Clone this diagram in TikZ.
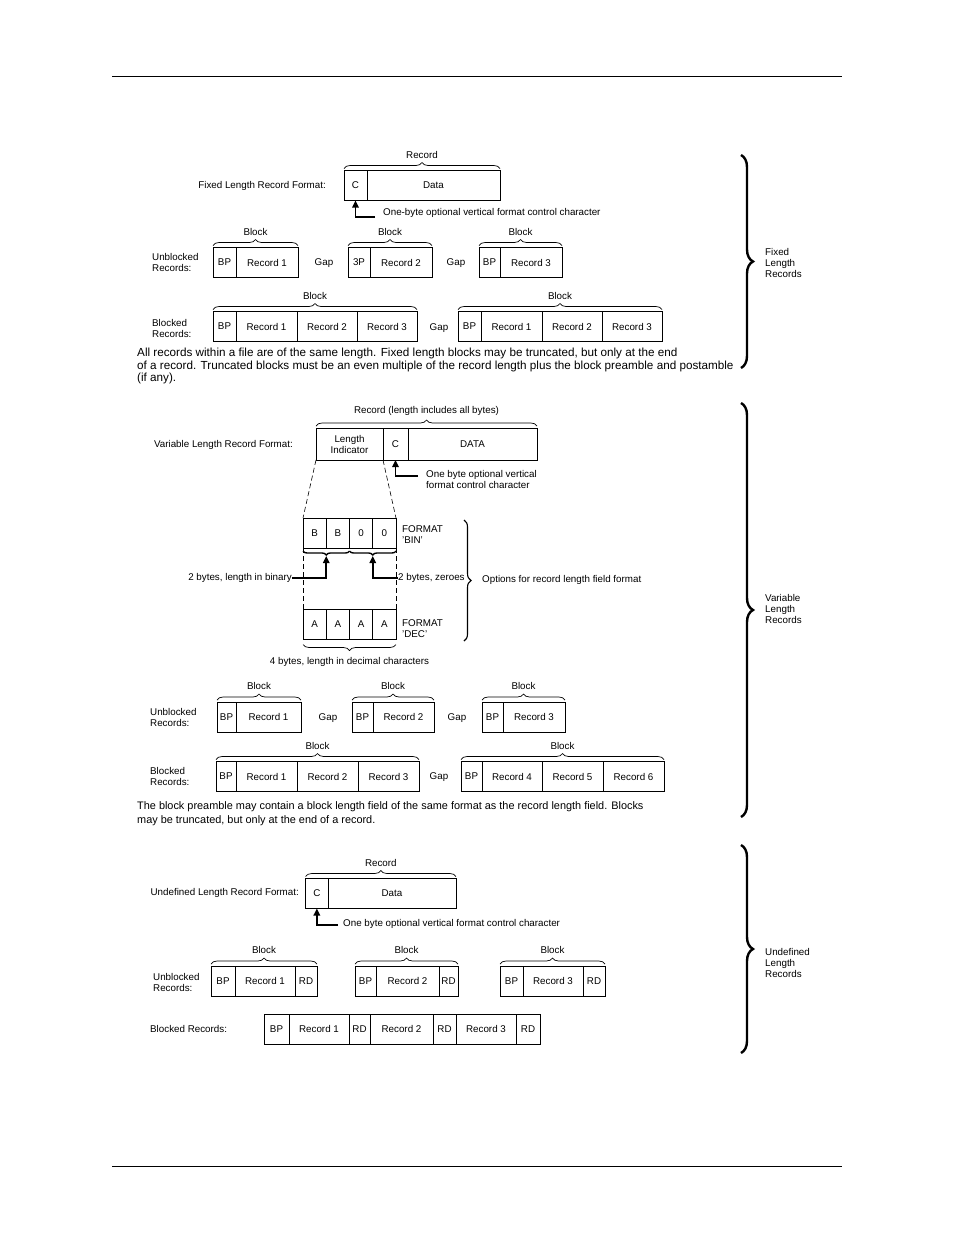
\documentclass[tikz,border=0pt]{standalone}
\usepackage{fontspec}
\setmainfont{Liberation Sans}
\usetikzlibrary{positioning,calc,arrows.meta,decorations.pathreplacing}
\tikzset{
lbl/.style={inner sep=0pt, font=\fontsize{9.8}{11}\selectfont},
cell/.style={draw, line width=0.7pt, minimum width=#1, minimum height=30pt,
  inner sep=0pt, outer sep=0pt, anchor=west, align=center, font=\fontsize{9.8}{11}\selectfont},
over/.style={decorate, decoration={brace, amplitude=6pt}, line width=0.7pt},
under/.style={decorate, decoration={brace, amplitude=4pt}, line width=1.4pt},
optbrace/.style={decorate, decoration={brace, amplitude=7pt}, line width=1.1pt},
side/.style={decorate, decoration={brace, amplitude=12pt}, line width=2.4pt},
pointer/.style={line width=1.6pt, -{Triangle[width=6.5pt,length=7pt]}},
guide/.style={line width=0.6pt, dash pattern=on 5pt off 3pt},
rule/.style={line width=1pt},
}
\begin{document}
\begin{tikzpicture}[x=1pt,y=-1pt]
\useasboundingbox (0,0) rectangle (954,1235);
\draw[rule] (112,76) -- (842,76);
\draw[rule] (112,1166) -- (842,1166);

% fixed length records
\node[lbl, anchor=east] (flbl) at (326,186) {Fixed Length Record Format:};
\node[cell=23] (fc) at (344,185.5) {C};
\node[cell=133, right=0pt of fc] (fdata) {Data};
\draw[over] ([yshift=2pt]fc.north west) -- ([yshift=2pt]fdata.north east)
  node[lbl, midway, above=10pt] {Record};
\node[lbl, anchor=west] (ftx) at (383,213) {One-byte optional vertical format control character};
\coordinate (ftail) at (375,217);
\draw[pointer] (ftail) -| (fc.south);

\node[lbl, anchor=west, align=left] (fub) at (152,262.5) {Unblocked\\Records:};
\node[cell=23] (fu1a) at (213,262.5) {BP};
\node[cell=62, right=0pt of fu1a] (fu1b) {Record 1};
\node[lbl] (fgap1) at (324,263) {Gap};
\node[cell=22] (fu2a) at (348,262.5) {3P};
\node[cell=62, right=0pt of fu2a] (fu2b) {Record 2};
\node[lbl] (fgap2) at (456,263) {Gap};
\node[cell=21] (fu3a) at (479,262.5) {BP};
\node[cell=62, right=0pt of fu3a] (fu3b) {Record 3};
\draw[over] ([yshift=2pt]fu1a.north west) -- ([yshift=2pt]fu1b.north east)
  node[lbl, midway, above=10pt] {Block};
\draw[over] ([yshift=2pt]fu2a.north west) -- ([yshift=2pt]fu2b.north east)
  node[lbl, midway, above=10pt] {Block};
\draw[over] ([yshift=2pt]fu3a.north west) -- ([yshift=2pt]fu3b.north east)
  node[lbl, midway, above=10pt] {Block};

\node[lbl, anchor=west, align=left] (fbl) at (152,328) {Blocked\\Records:};
\node[cell=23] (fb1a) at (213,326.5) {BP};
\node[cell=61, right=0pt of fb1a] (fb1b) {Record 1};
\node[cell=60, right=0pt of fb1b] (fb1c) {Record 2};
\node[cell=60, right=0pt of fb1c] (fb1d) {Record 3};
\node[lbl] (fgap3) at (439,328) {Gap};
\node[cell=23] (fb2a) at (458,326.5) {BP};
\node[cell=61, right=0pt of fb2a] (fb2b) {Record 1};
\node[cell=60, right=0pt of fb2b] (fb2c) {Record 2};
\node[cell=60, right=0pt of fb2c] (fb2d) {Record 3};
\draw[over] ([yshift=2pt]fb1a.north west) -- ([yshift=2pt]fb1d.north east)
  node[lbl, midway, above=10pt] {Block};
\draw[over] ([yshift=2pt]fb2a.north west) -- ([yshift=2pt]fb2d.north east)
  node[lbl, midway, above=10pt] {Block};

\node[anchor=north west, inner sep=0pt, align=left, font=\fontsize{11.7}{12.6}\selectfont] (fnote) at (137,348)
  {All records within a file are of the same length. Fixed length blocks may be truncated, but only at the end\\
   of a record. Truncated blocks must be an even multiple of the record length plus the block preamble and postamble\\
   (if any).};
\draw[side] (741,155) -- (741,368);
\node[lbl, anchor=west, align=left] (fside) at (765,263) {Fixed\\Length\\Records};

% variable length records
\node[lbl, anchor=east] (vlbl) at (293,445) {Variable Length Record Format:};
\node[cell=67, minimum height=32pt] (vli) at (316,444) {Length\\Indicator};
\node[cell=25, minimum height=32pt, right=0pt of vli] (vc) {C};
\node[cell=129, minimum height=32pt, right=0pt of vc] (vdata) {DATA};
\draw[over] ([yshift=2pt]vli.north west) -- ([yshift=2pt]vdata.north east)
  node[lbl, midway, above=10pt] {Record (length includes all bytes)};
\node[lbl, anchor=north west, align=left] (vtx) at (426,470) {One byte optional vertical\\format control character};
\coordinate (vtail) at (418,476);
\draw[pointer] (vtail) -| (vc.south);

\foreach \t [count=\i] in {B,B,0,0}
  \node[cell=23.25] (bin\i) at ({303+23.25*(\i-1)},533) {\t};
\foreach \t [count=\i] in {A,A,A,A}
  \node[cell=23.25] (dec\i) at ({303+23.25*(\i-1)},624.5) {\t};
\node[lbl, anchor=west, align=left] (bintag) at (402,535) {FORMAT\\'BIN'};
\node[lbl, anchor=west, align=left] (dectag) at (402,629) {FORMAT\\'DEC'};
\draw[guide] (vli.south west) -- (bin1.north west);
\draw[guide] (vli.south east) -- (bin4.north east);
\draw[guide] (bin1.south west) -- (dec1.north west);
\draw[guide] (bin4.south east) -- (dec4.north east);
\draw[under] ([yshift=-3pt]bin2.south east) -- ([yshift=-3pt]bin1.south west);
\draw[under] ([yshift=-3pt]bin4.south east) -- ([yshift=-3pt]bin3.south west);
\coordinate (lbtip) at ($(bin1.south west)!0.5!(bin2.south east)+(0,8)$);
\coordinate (rbtip) at ($(bin3.south west)!0.5!(bin4.south east)+(0,8)$);
\node[lbl, anchor=east] (bintx) at (292,578) {2 bytes, length in binary};
\node[lbl, anchor=west] (zertx) at (398,578) {2 bytes, zeroes};
\draw[pointer] (bintx.east) -| (lbtip);
\draw[pointer] (zertx.west) -| (rbtip);
\draw[over] ([yshift=-5pt]dec4.south east) -- ([yshift=-5pt]dec1.south west)
  node[lbl, midway, below=13pt] {4 bytes, length in decimal characters};
\draw[optbrace] (464,520) -- (464,641);
\node[lbl, anchor=west] (opttx) at (482,580) {Options for record length field format};

\node[lbl, anchor=west, align=left] (vub) at (150,717) {Unblocked\\Records:};
\node[cell=19] (vu1a) at (217,717) {BP};
\node[cell=65, right=0pt of vu1a] (vu1b) {Record 1};
\node[lbl] (vgap1) at (328,718) {Gap};
\node[cell=21] (vu2a) at (352,717) {BP};
\node[cell=61, right=0pt of vu2a] (vu2b) {Record 2};
\node[lbl] (vgap2) at (457,718) {Gap};
\node[cell=21] (vu3a) at (482,717) {BP};
\node[cell=62, right=0pt of vu3a] (vu3b) {Record 3};
\draw[over] ([yshift=2pt]vu1a.north west) -- ([yshift=2pt]vu1b.north east)
  node[lbl, midway, above=10pt] {Block};
\draw[over] ([yshift=2pt]vu2a.north west) -- ([yshift=2pt]vu2b.north east)
  node[lbl, midway, above=10pt] {Block};
\draw[over] ([yshift=2pt]vu3a.north west) -- ([yshift=2pt]vu3b.north east)
  node[lbl, midway, above=10pt] {Block};

\node[lbl, anchor=west, align=left] (vbl) at (150,776) {Blocked\\Records:};
\node[cell=20] (vb1a) at (216,776.5) {BP};
\node[cell=61, right=0pt of vb1a] (vb1b) {Record 1};
\node[cell=61, right=0pt of vb1b] (vb1c) {Record 2};
\node[cell=61, right=0pt of vb1c] (vb1d) {Record 3};
\node[lbl] (vgap3) at (439,777) {Gap};
\node[cell=21] (vb2a) at (461,776.5) {BP};
\node[cell=60, right=0pt of vb2a] (vb2b) {Record 4};
\node[cell=61, right=0pt of vb2b] (vb2c) {Record 5};
\node[cell=61, right=0pt of vb2c] (vb2d) {Record 6};
\draw[over] ([yshift=2pt]vb1a.north west) -- ([yshift=2pt]vb1d.north east)
  node[lbl, midway, above=10pt] {Block};
\draw[over] ([yshift=2pt]vb2a.north west) -- ([yshift=2pt]vb2d.north east)
  node[lbl, midway, above=10pt] {Block};

\node[anchor=north west, inner sep=0pt, align=left, font=\fontsize{10.9}{14}\selectfont] (vnote) at (137,801)
  {The block preamble may contain a block length field of the same format as the record length field. Blocks\\
   may be truncated, but only at the end of a record.};
\draw[side] (741,403) -- (741,817);
\node[lbl, anchor=west, align=left] (vside) at (765,609) {Variable\\Length\\Records};

% undefined length records
\node[lbl, anchor=east] (ulbl) at (299,893) {Undefined Length Record Format:};
\node[cell=22.3] (uc) at (305.7,893.5) {C};
\node[cell=128, right=0pt of uc] (udata) {Data};
\draw[over] ([yshift=2pt]uc.north west) -- ([yshift=2pt]udata.north east)
  node[lbl, midway, above=10pt] {Record};
\node[lbl, anchor=west] (utx) at (343,924) {One byte optional vertical format control character};
\coordinate (utail) at (338,925);
\draw[pointer] (utail) -| (uc.south);

\node[lbl, anchor=west, align=left] (uub) at (153,982.5) {Unblocked\\Records:};
\node[cell=24] (uu1a) at (211,981) {BP};
\node[cell=60, right=0pt of uu1a] (uu1b) {Record 1};
\node[cell=22, right=0pt of uu1b] (uu1c) {RD};
\node[cell=21] (uu2a) at (355,981) {BP};
\node[cell=63, right=0pt of uu2a] (uu2b) {Record 2};
\node[cell=19, right=0pt of uu2b] (uu2c) {RD};
\node[cell=23] (uu3a) at (500,981) {BP};
\node[cell=60, right=0pt of uu3a] (uu3b) {Record 3};
\node[cell=22, right=0pt of uu3b] (uu3c) {RD};
\draw[over] ([yshift=2pt]uu1a.north west) -- ([yshift=2pt]uu1c.north east)
  node[lbl, midway, above=10pt] {Block};
\draw[over] ([yshift=2pt]uu2a.north west) -- ([yshift=2pt]uu2c.north east)
  node[lbl, midway, above=10pt] {Block};
\draw[over] ([yshift=2pt]uu3a.north west) -- ([yshift=2pt]uu3c.north east)
  node[lbl, midway, above=10pt] {Block};

\node[lbl, anchor=west] (ubl) at (150,1029) {Blocked Records:};
\node[cell=25] (ub1) at (264,1029) {BP};
\node[cell=60, right=0pt of ub1] (ub2) {Record 1};
\node[cell=21, right=0pt of ub2] (ub3) {RD};
\node[cell=63, right=0pt of ub3] (ub4) {Record 2};
\node[cell=23, right=0pt of ub4] (ub5) {RD};
\node[cell=60, right=0pt of ub5] (ub6) {Record 3};
\node[cell=24, right=0pt of ub6] (ub7) {RD};
\draw[side] (741,845) -- (741,1053);
\node[lbl, anchor=west, align=left] (uside) at (765,963) {Undefined\\Length\\Records};
\end{tikzpicture}
\end{document}
